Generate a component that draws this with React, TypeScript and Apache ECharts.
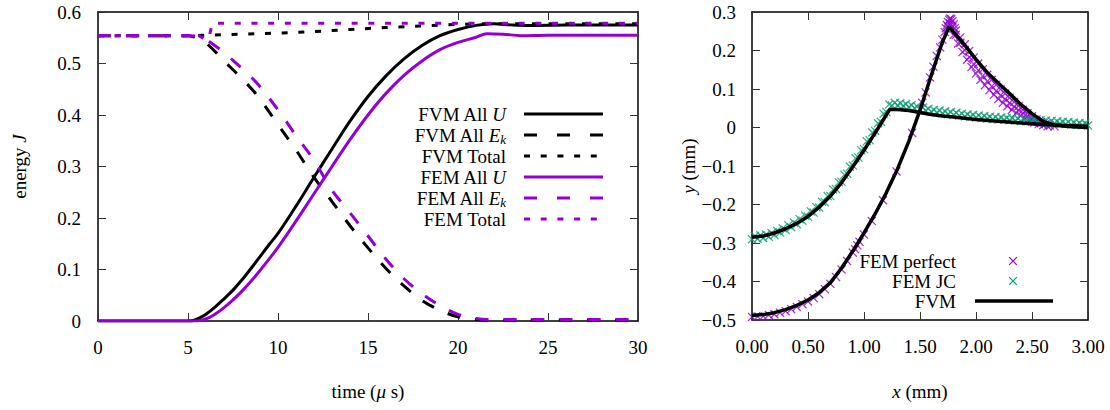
import React, { useEffect, useRef } from 'react';
import * as echarts from 'echarts';

const FONT = '"Liberation Serif", "Times New Roman", serif';
const PURPLE = '#9400d3';
const GREEN = '#009e73';
const BLACK = '#000000';

// ---------- Left panel: energy vs time ----------
const timeTicks = [0, 5, 10, 15, 20, 25, 30];
const energyTicks = [0, 0.1, 0.2, 0.3, 0.4, 0.5, 0.6];

const fvmUTime = [0, 2.5, 4.5, 5, 5.3, 5.7, 6, 6.5, 7, 7.5, 8, 8.5, 9, 9.5, 10, 11, 12, 13, 14, 15, 16, 17, 18, 19, 20, 21, 22, 23, 24, 26, 28, 30];
const fvmUEnergy = [0, 0, 0, 0, 0.001, 0.007, 0.013, 0.027, 0.043, 0.06, 0.08, 0.102, 0.125, 0.148, 0.17, 0.223, 0.279, 0.334, 0.388, 0.436, 0.476, 0.509, 0.535, 0.554, 0.566, 0.574, 0.577, 0.575, 0.574, 0.575, 0.575, 0.575];

const fvmEkTime = [0, 2.5, 5, 5.3, 5.7, 6, 6.6, 7, 7.7, 8.5, 9, 10, 11, 12, 13, 14, 15, 16, 17, 18, 19, 20, 21, 22, 25, 30];
const fvmEkEnergy = [0.554, 0.554, 0.554, 0.552, 0.547, 0.54, 0.52, 0.505, 0.481, 0.452, 0.431, 0.381, 0.332, 0.279, 0.232, 0.185, 0.142, 0.102, 0.068, 0.04, 0.021, 0.008, 0.003, 0.002, 0.002, 0.002];

const fvmTotalTime = [0, 5, 5.5, 6, 8, 10, 12, 14, 16, 18, 20, 21, 22, 25, 30];
const fvmTotalEnergy = [0.554, 0.554, 0.554, 0.555, 0.557, 0.559, 0.562, 0.566, 0.57, 0.573, 0.576, 0.577, 0.577, 0.577, 0.577];

const femUTime = [0, 2.5, 5, 5.5, 5.8, 6.2, 6.5, 7, 7.5, 8, 8.5, 9, 9.5, 10, 11, 12, 13, 14, 15, 16, 17, 18, 19, 20, 21, 21.6, 22.5, 23.5, 25, 27.5, 30];
const femUEnergy = [0, 0, 0, 0, 0.002, 0.007, 0.013, 0.026, 0.041, 0.058, 0.077, 0.098, 0.12, 0.143, 0.194, 0.247, 0.3, 0.352, 0.4, 0.442, 0.477, 0.505, 0.527, 0.541, 0.551, 0.558, 0.557, 0.554, 0.555, 0.555, 0.555];

const femEkTime = [0, 2.5, 5, 5.5, 5.8, 6.2, 6.6, 7, 7.5, 8, 8.8, 10, 11, 12, 13, 14, 15, 16, 17, 18, 19, 20, 21, 22, 25, 30];
const femEkEnergy = [0.554, 0.554, 0.554, 0.553, 0.549, 0.542, 0.532, 0.522, 0.506, 0.49, 0.463, 0.41, 0.36, 0.312, 0.254, 0.21, 0.165, 0.12, 0.082, 0.053, 0.03, 0.013, 0.005, 0.003, 0.003, 0.003];

const femTotalTime = [0, 5, 5.6, 6.0, 6.15, 6.35, 10, 20, 30];
const femTotalEnergy = [0.554, 0.554, 0.554, 0.546, 0.548, 0.578, 0.578, 0.578, 0.578];

// ---------- Right panel: y vs x ----------
const xTicks = [0, 0.5, 1, 1.5, 2, 2.5, 3];
const yTicks = [-0.5, -0.4, -0.3, -0.2, -0.1, 0, 0.1, 0.2, 0.3];

const fvmPerfectX = [0, 0.1, 0.2, 0.3, 0.4, 0.5, 0.6, 0.7, 0.8, 0.9, 1.0, 1.1, 1.2, 1.3, 1.4, 1.5, 1.6, 1.7, 1.76, 1.8, 1.9, 2.0, 2.1, 2.2, 2.3, 2.4, 2.5, 2.6, 2.7, 2.8, 2.9, 3.0];
const fvmPerfectY = [-0.488, -0.486, -0.481, -0.473, -0.462, -0.448, -0.429, -0.403, -0.365, -0.321, -0.274, -0.224, -0.169, -0.107, -0.036, 0.045, 0.135, 0.222, 0.262, 0.248, 0.214, 0.177, 0.143, 0.115, 0.088, 0.06, 0.036, 0.016, 0.006, 0.003, 0.001, 0.0];

const fvmJcX = [0, 0.1, 0.2, 0.3, 0.4, 0.5, 0.6, 0.7, 0.8, 0.9, 1.0, 1.1, 1.2, 1.23, 1.3, 1.4, 1.5, 1.6, 1.7, 1.8, 1.9, 2.0, 2.2, 2.4, 2.6, 2.8, 3.0];
const fvmJcY = [-0.285, -0.282, -0.274, -0.263, -0.249, -0.231, -0.207, -0.178, -0.143, -0.102, -0.059, -0.014, 0.033, 0.047, 0.047, 0.044, 0.039, 0.034, 0.03, 0.027, 0.024, 0.021, 0.016, 0.012, 0.008, 0.005, 0.003];

const femJcX = [0, 0.05, 0.1, 0.15, 0.2, 0.25, 0.3, 0.35, 0.4, 0.45, 0.5, 0.55, 0.6, 0.65, 0.7, 0.75, 0.8, 0.85, 0.9, 0.95, 1.0, 1.05, 1.1, 1.15, 1.2, 1.25, 1.3, 1.35, 1.4, 1.45, 1.5, 1.55, 1.6, 1.65, 1.7, 1.75, 1.8, 1.85, 1.9, 1.95, 2.0, 2.05, 2.1, 2.15, 2.2, 2.25, 2.3, 2.35, 2.4, 2.45, 2.5, 2.55, 2.6, 2.65, 2.7, 2.75, 2.8, 2.85, 2.9, 2.95, 3.0];
const femJcY = [-0.29, -0.289, -0.287, -0.284, -0.279, -0.273, -0.266, -0.259, -0.251, -0.242, -0.232, -0.221, -0.208, -0.194, -0.178, -0.16, -0.141, -0.12, -0.099, -0.078, -0.056, -0.033, -0.009, 0.015, 0.04, 0.057, 0.058, 0.056, 0.053, 0.05, 0.047, 0.044, 0.041, 0.039, 0.037, 0.035, 0.033, 0.031, 0.029, 0.028, 0.026, 0.025, 0.023, 0.022, 0.021, 0.02, 0.019, 0.018, 0.017, 0.016, 0.015, 0.014, 0.013, 0.012, 0.011, 0.01, 0.009, 0.008, 0.007, 0.006, 0.005];
const femJc2X = [0.025, 0.075, 0.125, 0.175, 0.225, 0.275, 0.325, 0.375, 0.425, 0.475, 0.525, 0.575, 0.625, 0.675, 0.725, 0.775, 0.825, 0.875, 0.925, 0.975, 1.025, 1.075, 1.125, 1.175, 1.225, 1.275, 1.325, 1.375, 1.425, 1.475, 1.525, 1.575, 1.625, 1.675, 1.725, 1.775, 1.825, 1.875, 1.925, 1.975, 2.025, 2.075, 2.125, 2.175, 2.225, 2.275, 2.325, 2.375, 2.425, 2.475, 2.525, 2.575, 2.625, 2.675, 2.725, 2.775, 2.825, 2.875, 2.925, 2.975];
const femJc2Y = [-0.282, -0.28, -0.278, -0.274, -0.268, -0.262, -0.254, -0.247, -0.238, -0.229, -0.218, -0.207, -0.193, -0.178, -0.161, -0.142, -0.123, -0.102, -0.08, -0.059, -0.036, -0.013, 0.011, 0.036, 0.06, 0.064, 0.063, 0.061, 0.058, 0.055, 0.052, 0.049, 0.046, 0.044, 0.042, 0.04, 0.038, 0.036, 0.034, 0.033, 0.031, 0.03, 0.028, 0.027, 0.026, 0.025, 0.024, 0.023, 0.022, 0.021, 0.02, 0.019, 0.018, 0.017, 0.016, 0.015, 0.014, 0.013, 0.012, 0.011];

const femPerfectAscX = [0, 0.05, 0.1, 0.15, 0.2, 0.25, 0.3, 0.35, 0.4, 0.45, 0.5, 0.55, 0.6, 0.65, 0.7, 0.75, 0.8, 0.85, 0.9, 0.92, 0.94, 0.96, 1.0, 1.07, 1.17, 1.29, 1.43, 1.52, 1.55, 1.59, 1.62, 1.65, 1.68];
const femPerfectAscY = [-0.492, -0.491, -0.49, -0.487, -0.485, -0.481, -0.477, -0.472, -0.466, -0.459, -0.452, -0.443, -0.433, -0.42, -0.406, -0.388, -0.369, -0.347, -0.325, -0.316, -0.306, -0.297, -0.278, -0.243, -0.189, -0.114, -0.014, 0.064, 0.091, 0.13, 0.158, 0.186, 0.208];
const femPerfectPeakX = [1.7, 1.72, 1.73, 1.74, 1.75, 1.76, 1.77, 1.78, 1.79, 1.8, 1.75, 1.77, 1.79, 1.81];
const femPerfectPeakY = [0.228, 0.248, 0.258, 0.266, 0.274, 0.28, 0.283, 0.281, 0.276, 0.268, 0.262, 0.27, 0.262, 0.258];
const femPerfectBandAX = [1.82, 1.86, 1.9, 1.94, 1.98, 2.02, 2.06, 2.1, 2.14, 2.18, 2.22, 2.26, 2.3, 2.34, 2.38, 2.42, 2.46, 2.5, 2.54, 2.58, 2.62, 2.66, 2.7];
const femPerfectBandAY = [0.252, 0.234, 0.216, 0.199, 0.182, 0.166, 0.151, 0.137, 0.124, 0.111, 0.099, 0.088, 0.077, 0.066, 0.056, 0.046, 0.037, 0.029, 0.021, 0.014, 0.009, 0.005, 0.003];
const femPerfectBandBX = [1.8, 1.84, 1.88, 1.92, 1.96, 2.0, 2.04, 2.08, 2.12, 2.16, 2.2, 2.24, 2.28, 2.32, 2.36, 2.4, 2.44, 2.48, 2.52, 2.56, 2.6, 2.64];
const femPerfectBandBY = [0.24, 0.218, 0.196, 0.176, 0.157, 0.14, 0.124, 0.11, 0.097, 0.085, 0.074, 0.064, 0.055, 0.046, 0.038, 0.031, 0.024, 0.018, 0.013, 0.009, 0.006, 0.003];
const femPerfectBandCX = [1.82, 1.86, 1.9, 1.94, 1.98, 2.02, 2.06, 2.1, 2.14, 2.18, 2.22, 2.26, 2.3, 2.34, 2.38, 2.42, 2.46, 2.5, 2.54, 2.58];
const femPerfectBandCY = [0.24, 0.22, 0.201, 0.183, 0.165, 0.149, 0.134, 0.12, 0.107, 0.095, 0.084, 0.074, 0.064, 0.054, 0.045, 0.037, 0.029, 0.022, 0.016, 0.011];

const zip = (xs: number[], ys: number[]) => xs.map((x, i) => [x, ys[i]]);

const CROSS = 'path://M0,1L1,0L5,4L9,0L10,1L6,5L10,9L9,10L5,6L1,10L0,9L4,5Z';
const crossTemplate = [[0, 1], [1, 0], [5, 4], [9, 0], [10, 1], [6, 5], [10, 9], [9, 10], [5, 6], [1, 10], [0, 9], [4, 5]];

const richStyles = {
  t: { fontFamily: FONT, fontSize: 19, color: BLACK },
  i: { fontStyle: 'italic', fontFamily: FONT, fontSize: 19, color: BLACK },
  sub: { fontStyle: 'italic', fontFamily: FONT, fontSize: 13, color: BLACK, verticalAlign: 'bottom', lineHeight: 13 },
};

export default function App() {
  const ref = useRef<HTMLDivElement>(null);

  useEffect(() => {
    if (!ref.current) return;
    const chart = echarts.init(ref.current, null, { renderer: 'svg' });

    const axisLine = { show: true, onZero: false, lineStyle: { color: BLACK, width: 1.5 } };
    const axisTick = { show: true, inside: true, length: 8, lineStyle: { color: '#333', width: 1 } };
    const labelBase = { color: BLACK, fontFamily: FONT, fontSize: 19, rich: richStyles };
    const nameStyle = { color: BLACK, fontFamily: FONT, fontSize: 19, rich: richStyles };
    const wrap = (s: string) => '{t|' + s + '}';

    const mirror = (gridIndex: number, min: number, max: number, interval: number, position: string) => ({
      type: 'value', gridIndex, min, max, interval, position,
      axisLine, axisTick, axisLabel: { show: false }, splitLine: { show: false },
    });

    const lineSeries = (name: string, xs: number[], ys: number[], color: string, type: any, width: number, xi: number, yi: number, smooth: number | boolean) => ({
      name, type: 'line', xAxisIndex: xi, yAxisIndex: yi, data: zip(xs, ys),
      showSymbol: false, symbol: 'none', smooth,
      lineStyle: { color, width, type, cap: 'butt' }, z: 3,
    });

    const legendRowsLeft = [
      { text: 'FVM All {i|U}', color: BLACK, dash: null },
      { text: 'FVM All {i|E}{sub|k}', color: BLACK, dash: [13, 20] },
      { text: 'FVM Total', color: BLACK, dash: [6, 10.7] },
      { text: 'FEM All {i|U}', color: PURPLE, dash: null },
      { text: 'FEM All {i|E}{sub|k}', color: PURPLE, dash: [13, 20] },
      { text: 'FEM Total', color: PURPLE, dash: [6, 10.7] },
    ];
    const graphics: any[] = [];
    legendRowsLeft.forEach((r, i) => {
      const y = 114 + i * 21;
      graphics.push({
        type: 'text', x: 506, y, z: 10,
        style: { text: r.text, fill: BLACK, fontFamily: FONT, fontSize: 19, align: 'right', verticalAlign: 'middle', lineHeight: 22, rich: richStyles },
      });
      graphics.push({
        type: 'line', z: 10, shape: { x1: 524, y1: y, x2: 603, y2: y },
        style: { stroke: r.color, lineWidth: 3, lineDash: r.dash || undefined },
      });
    });
    const legendRowsRight = ['FEM perfect', 'FEM JC', 'FVM'];
    legendRowsRight.forEach((t, i) => {
      const y = 261 + i * 20;
      graphics.push({
        type: 'text', x: 956, y, z: 10,
        style: { text: t, fill: BLACK, fontFamily: FONT, fontSize: 19, align: 'right', verticalAlign: 'middle' },
      });
    });
    const crossAt = (cx: number, cy: number, color: string) => ({
      type: 'polygon', z: 10,
      shape: { points: crossTemplate.map(([px, py]) => [cx + (px - 5) * 0.85, cy + (py - 5) * 0.85]) },
      style: { fill: color },
    });
    graphics.push(crossAt(1013, 261, PURPLE));
    graphics.push(crossAt(1013, 281, GREEN));
    graphics.push({ type: 'line', z: 10, shape: { x1: 975, y1: 301, x2: 1053, y2: 301 }, style: { stroke: BLACK, lineWidth: 3.5 } });

    const option: any = {
      animation: false,
      backgroundColor: '#ffffff',
      textStyle: { fontFamily: FONT },
      grid: [
        { left: 98, top: 12, width: 540, height: 309 },
        { left: 752, top: 12, width: 336, height: 308 },
      ],
      xAxis: [
        {
          type: 'value', gridIndex: 0, min: timeTicks[0], max: timeTicks[timeTicks.length - 1], interval: timeTicks[1] - timeTicks[0],
          position: 'bottom', axisLine, axisTick, splitLine: { show: false },
          axisLabel: { ...labelBase, margin: 17, formatter: (v: number) => wrap(String(v)) },
          name: 'time ({i|μ} s)', nameLocation: 'middle', nameGap: 61, nameTextStyle: nameStyle,
        },
        {
          type: 'value', gridIndex: 1, min: xTicks[0], max: xTicks[xTicks.length - 1], interval: xTicks[1] - xTicks[0],
          position: 'bottom', axisLine, axisTick, splitLine: { show: false },
          axisLabel: { ...labelBase, margin: 17, formatter: (v: number) => wrap(v.toFixed(2)) },
          name: '{i|x} (mm)', nameLocation: 'middle', nameGap: 62, nameTextStyle: nameStyle,
        },
        mirror(0, timeTicks[0], timeTicks[timeTicks.length - 1], timeTicks[1] - timeTicks[0], 'top'),
        mirror(1, xTicks[0], xTicks[xTicks.length - 1], xTicks[1] - xTicks[0], 'top'),
      ],
      yAxis: [
        {
          type: 'value', gridIndex: 0, min: energyTicks[0], max: energyTicks[energyTicks.length - 1], interval: 0.1,
          position: 'left', axisLine, axisTick, splitLine: { show: false },
          axisLabel: { ...labelBase, margin: 17, formatter: (v: number) => wrap(Math.abs(v) < 1e-9 ? '0' : v.toFixed(1)) },
          name: 'energy {i|J}', nameLocation: 'middle', nameGap: 69, nameTextStyle: nameStyle,
        },
        {
          type: 'value', gridIndex: 1, min: yTicks[0], max: yTicks[yTicks.length - 1], interval: 0.1,
          position: 'left', axisLine, axisTick, splitLine: { show: false },
          axisLabel: {
            ...labelBase, margin: 16,
            formatter: (v: number) => wrap(Math.abs(v) < 1e-9 ? '0' : v < 0 ? '\u2212' + Math.abs(v).toFixed(1) : v.toFixed(1)),
          },
          name: '{i|y} (mm)', nameLocation: 'middle', nameGap: 34, nameTextStyle: nameStyle,
        },
        mirror(0, energyTicks[0], energyTicks[energyTicks.length - 1], 0.1, 'right'),
        mirror(1, yTicks[0], yTicks[yTicks.length - 1], 0.1, 'right'),
      ],
      series: [
        lineSeries('FVM All U', fvmUTime, fvmUEnergy, BLACK, 'solid', 3, 0, 0, 0.35),
        lineSeries('FVM All Ek', fvmEkTime, fvmEkEnergy, BLACK, [13, 15], 3, 0, 0, 0.35),
        lineSeries('FVM Total', fvmTotalTime, fvmTotalEnergy, BLACK, [6, 10.7], 3, 0, 0, false),
        lineSeries('FEM All U', femUTime, femUEnergy, PURPLE, 'solid', 3, 0, 0, 0.35),
        lineSeries('FEM All Ek', femEkTime, femEkEnergy, PURPLE, [13, 15], 3, 0, 0, 0.35),
        lineSeries('FEM Total', femTotalTime, femTotalEnergy, PURPLE, [6, 10.7], 3, 0, 0, false),
        {
          name: 'FEM perfect', type: 'scatter', xAxisIndex: 1, yAxisIndex: 1, symbol: CROSS, symbolSize: 9,
          itemStyle: { color: PURPLE }, z: 2,
          data: [
            ...zip(femPerfectAscX, femPerfectAscY),
            ...zip(femPerfectPeakX, femPerfectPeakY),
            ...zip(femPerfectBandAX, femPerfectBandAY),
            ...zip(femPerfectBandBX, femPerfectBandBY),
            ...zip(femPerfectBandCX, femPerfectBandCY),
          ],
        },
        {
          name: 'FEM JC', type: 'scatter', xAxisIndex: 1, yAxisIndex: 1, symbol: CROSS, symbolSize: 9,
          itemStyle: { color: GREEN }, z: 2, data: [...zip(femJcX, femJcY), ...zip(femJc2X, femJc2Y)],
        },
        lineSeries('FVM', fvmPerfectX, fvmPerfectY, BLACK, 'solid', 3.5, 1, 1, false),
        lineSeries('FVM', fvmJcX, fvmJcY, BLACK, 'solid', 3.5, 1, 1, false),
      ],
      graphic: graphics,
    };

    chart.setOption(option);
    return () => chart.dispose();
  }, []);

  return <div ref={ref} style={{ position: 'fixed', left: 0, top: 0, width: 1110, height: 410 }} />;
}
